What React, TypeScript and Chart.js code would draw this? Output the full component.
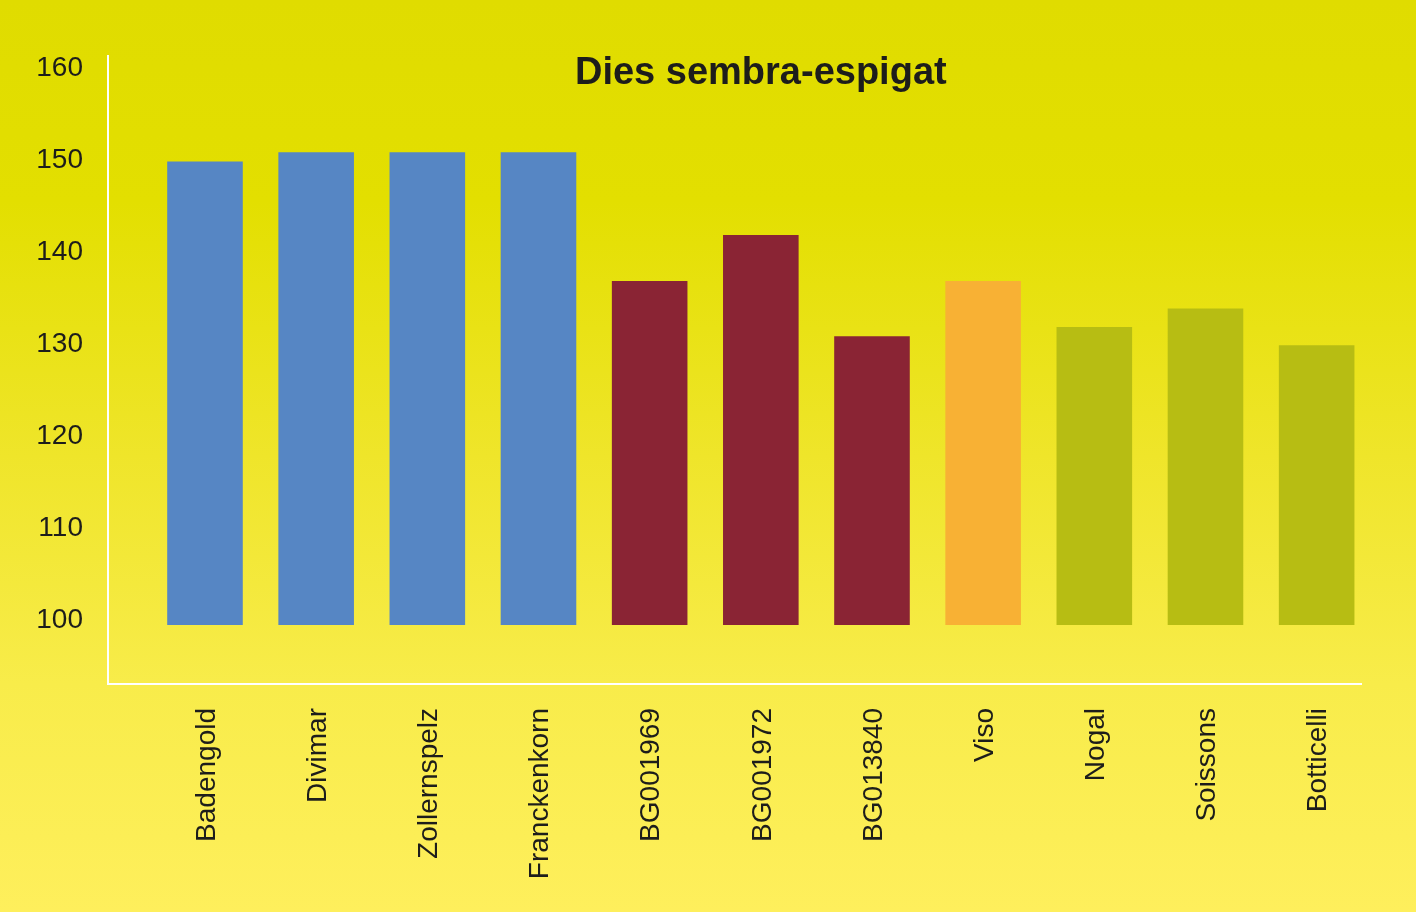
import React, { useEffect, useRef } from 'react';
import { Chart, registerables } from 'chart.js';

Chart.register(...registerables);

// data
const categories = [
  'Badengold',
  'Divimar',
  'Zollernspelz',
  'Franckenkorn',
  'BG001969',
  'BG001972',
  'BG013840',
  'Viso',
  'Nogal',
  'Soissons',
  'Botticelli',
];
const days = [150, 151, 151, 151, 137, 142, 131, 137, 132, 134, 130];
const barColors = [
  '#5686c4',
  '#5686c4',
  '#5686c4',
  '#5686c4',
  '#8a2434',
  '#8a2434',
  '#8a2434',
  '#f8b134',
  '#b7bd13',
  '#b7bd13',
  '#b7bd13',
];
const yTicks = [100, 110, 120, 130, 140, 150, 160];
const title = 'Dies sembra-espigat';

const FONT = '"Liberation Sans", Arial, Helvetica, sans-serif';
const TEXT = '#1d1d1b';

const titlePlugin = {
  id: 'innerTitle',
  afterDraw(chart: Chart) {
    const { ctx, chartArea } = chart;
    const x = chart.scales.x;
    const cx = (x.getPixelForValue(-0.5) + x.getPixelForValue(categories.length - 0.5)) / 2;
    ctx.save();
    ctx.font = `bold 38px ${FONT}`;
    ctx.fillStyle = TEXT;
    ctx.textAlign = 'center';
    ctx.textBaseline = 'alphabetic';
    ctx.fillText(title, cx, chartArea.top + 28);
    ctx.restore();
  },
};

export default function App() {
  const canvasRef = useRef<HTMLCanvasElement>(null);

  useEffect(() => {
    document.body.style.margin = '0';
    if (!canvasRef.current) return;

    const chart = new Chart(canvasRef.current, {
      type: 'bar',
      data: {
        datasets: [
          {
            data: days.map((v, i) => ({ x: i, y: v })),
            backgroundColor: barColors,
            borderWidth: 0,
            base: 99.6,
            barPercentage: 0.68,
            categoryPercentage: 1,
          },
        ],
      },
      options: {
        animation: false,
        responsive: true,
        maintainAspectRatio: false,
        layout: { padding: { top: 56, right: 55, bottom: 0, left: 0 } },
        plugins: {
          legend: { display: false },
          tooltip: { enabled: false },
          title: { display: false },
        },
        scales: {
          x: {
            type: 'linear',
            offset: false,
            min: -0.8725,
            max: 10.399,
            afterBuildTicks: (axis: any) => {
              axis.ticks = categories.map((_, i) => ({ value: i }));
            },
            afterFit: (axis: any) => {
              axis.height = 228;
            },
            grid: { display: false, drawTicks: false },
            border: { display: true, color: '#ffffff', width: 2 },
            ticks: {
              autoSkip: false,
              minRotation: 90,
              maxRotation: 90,
              padding: 24,
              labelOffset: 2,
              color: TEXT,
              font: { family: FONT, size: 28 },
              callback: (v: any) => categories[v] ?? '',
            },
          },
          y: {
            min: 93.17,
            max: 161.47,
            afterBuildTicks: (axis: any) => {
              axis.ticks = yTicks.map((v) => ({ value: v }));
            },
            afterFit: (axis: any) => {
              axis.width = 108;
            },
            grid: { display: false, drawTicks: false },
            border: { display: true, color: '#ffffff', width: 2 },
            ticks: {
              padding: 25,
              labelOffset: -1,
              color: TEXT,
              font: { family: FONT, size: 28 },
            },
          },
        },
      },
      plugins: [titlePlugin],
    });

    return () => {
      chart.destroy();
    };
  }, []);

  return (
    <div
      style={{
        width: 1416,
        height: 912,
        position: 'relative',
        background:
          'linear-gradient(to bottom, #e0dc00 0%, #e3df00 22%, #efe52a 50%, #f8ec4a 75%, #feef5c 100%)',
      }}
    >
      <canvas ref={canvasRef} />
    </div>
  );
}
